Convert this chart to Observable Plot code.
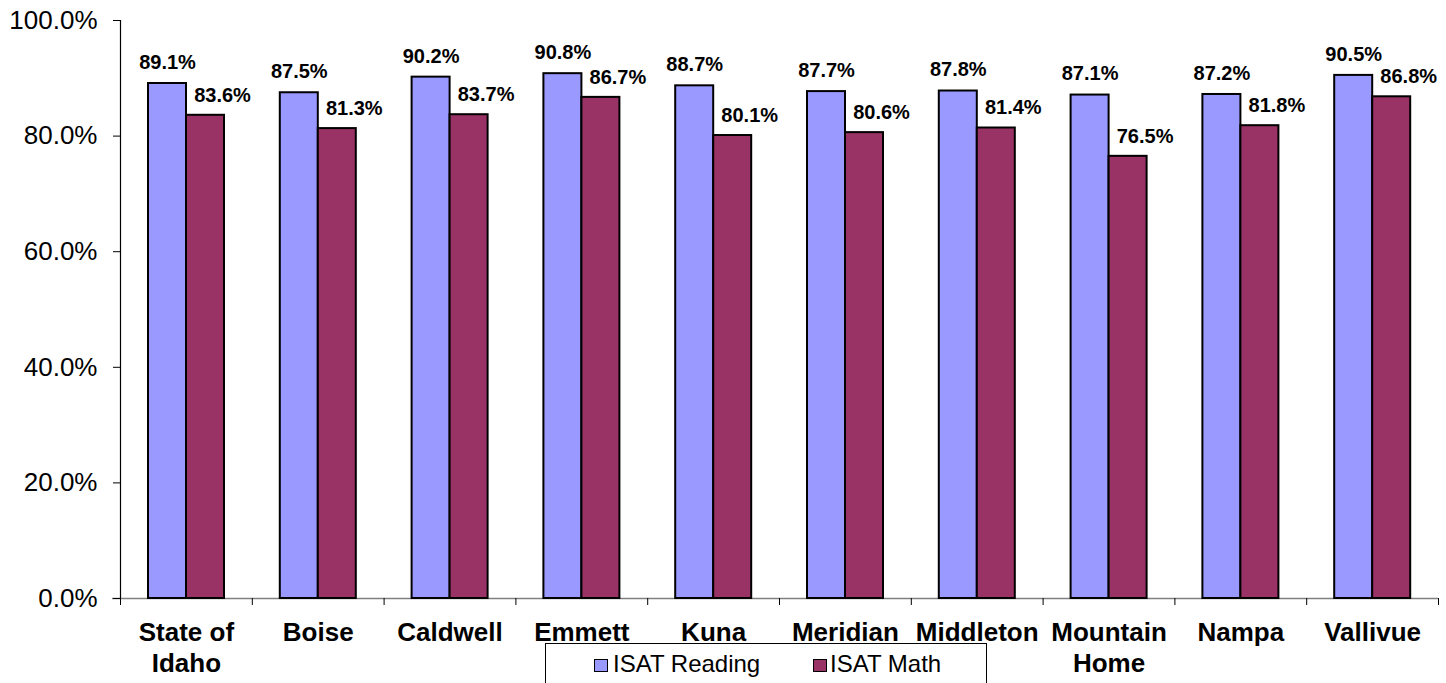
<!DOCTYPE html>
<html>
<head>
<meta charset="utf-8">
<script src="https://cdn.jsdelivr.net/npm/d3@7"></script>
<script src="https://cdn.jsdelivr.net/npm/@observablehq/plot@0.6"></script>
<style>
  html, body { margin: 0; padding: 0; background: #fff; }
  body { width: 1446px; height: 683px; position: relative; overflow: hidden; font-family: "Liberation Sans", Arial, sans-serif; }
  #legend { position: absolute; left: 545px; top: 643px; width: 442px; height: 60px; border: 1px solid #000; background: #fff; box-sizing: border-box; }
  #legend .sw { position: absolute; width: 12px; height: 11px; border: 1.5px solid #000; box-sizing: content-box; }
  #legend .lb { position: absolute; font-size: 24px; line-height: 24px; white-space: nowrap; color: #000; }
</style>
</head>
<body>
<div id="chart"></div>
<div id="legend"></div>
<script>
const districts = ["State of Idaho", "Boise", "Caldwell", "Emmett", "Kuna", "Meridian", "Middleton", "Mountain Home", "Nampa", "Vallivue"];
const tickLabels = ["State of\nIdaho", "Boise", "Caldwell", "Emmett", "Kuna", "Meridian", "Middleton", "Mountain\nHome", "Nampa", "Vallivue"];
const readingValues = [0.891, 0.875, 0.902, 0.908, 0.887, 0.877, 0.878, 0.871, 0.872, 0.905];
const mathValues = [0.836, 0.813, 0.837, 0.867, 0.801, 0.806, 0.814, 0.765, 0.818, 0.868];
const seriesNames = ["ISAT Reading", "ISAT Math"];
const seriesColors = ["#9999FF", "#993366"];
const yTicks = [0, 0.2, 0.4, 0.6, 0.8, 1.0];

const data = districts.map((d, i) => ({district: d, reading: readingValues[i], math: mathValues[i]}));
const labelOf = new Map(districts.map((d, i) => [d, tickLabels[i]]));

const W = 1446, H = 683, mL = 120, mR = 8, mT = 20, mB = 85;
const bw = (W - mL - mR) / districts.length;
const outer = 28, barW = 38;
const fmt = d3.format(".1%");

const chart = Plot.plot({
  width: W, height: H,
  marginLeft: mL, marginRight: mR, marginTop: mT, marginBottom: mB,
  style: {fontFamily: "'Liberation Sans', Arial, sans-serif", color: "#000", background: "#fff", overflow: "visible"},
  x: {domain: districts, padding: 0, round: false, axis: null},
  y: {domain: [0, 1], axis: null},
  marks: [
    Plot.ruleY([0], {stroke: "#808080", strokeWidth: 1.5, insetLeft: -8}),
    Plot.ruleX(districts, {x: d => d, dx: -bw / 2, y1: 0, y2: 0, insetBottom: -7, stroke: "#000", strokeWidth: 1}),
    Plot.ruleX(districts.slice(-1), {x: d => d, dx: bw / 2, y1: 0, y2: 0, insetBottom: -7, stroke: "#000", strokeWidth: 1}),
    Plot.ruleX(districts.slice(0, 1), {x: d => d, dx: -bw / 2, y1: 0, y2: 1, stroke: "#000", strokeWidth: 1.2}),
    Plot.axisY({ticks: yTicks, tickFormat: fmt, tickSize: 7, tickPadding: 16, fontSize: 26, anchor: "left"}),
    Plot.axisX({tickFormat: d => labelOf.get(d), tickSize: 0, tickPadding: 21, fontSize: 26, fontWeight: "bold", lineHeight: 1.19, anchor: "bottom"}),
    Plot.barY(data, {x: "district", y: "reading", fill: seriesColors[0], stroke: "#000", strokeWidth: 2,
      insetLeft: outer, insetRight: bw - outer - barW}),
    Plot.barY(data, {x: "district", y: "math", fill: seriesColors[1], stroke: "#000", strokeWidth: 2,
      insetLeft: outer + barW, insetRight: bw - outer - 2 * barW}),
    Plot.text(data, {x: "district", y: "reading", text: d => fmt(d.reading), dx: -bw / 2 + outer + barW / 2, dy: -21,
      fontSize: 20, fontWeight: "bold", fill: "#000"}),
    Plot.text(data, {x: "district", y: "math", text: d => fmt(d.math), dx: -bw / 2 + outer + 1.5 * barW + 17, dy: -20,
      fontSize: 20, fontWeight: "bold", fill: "#000"})
  ]
});
document.getElementById("chart").appendChild(chart);

const legend = document.getElementById("legend");
const items = [
  {sw: 48, lb: 67},
  {sw: 267, lb: 284}
];
seriesNames.forEach((name, i) => {
  const sw = document.createElement("div");
  sw.className = "sw";
  sw.style.left = items[i].sw + "px";
  sw.style.top = "15px";
  sw.style.background = seriesColors[i];
  legend.appendChild(sw);
  const lb = document.createElement("div");
  lb.className = "lb";
  lb.style.left = items[i].lb + "px";
  lb.style.top = "8px";
  lb.textContent = name;
  legend.appendChild(lb);
});
</script>
</body>
</html>
